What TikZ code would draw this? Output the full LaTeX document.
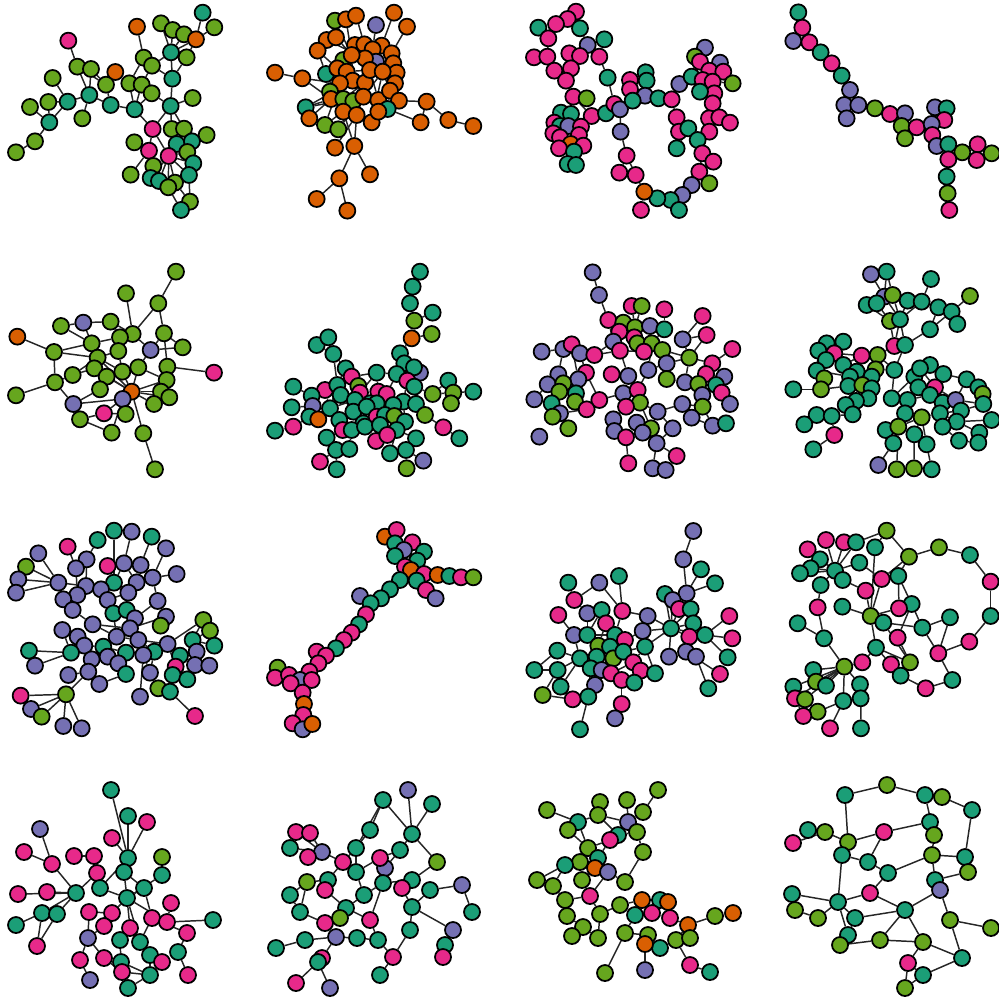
\documentclass[tikz,border=0pt]{standalone}
\usepackage{xcolor}
\usepackage{tikz}
\usetikzlibrary{backgrounds}
\definecolor{dteal}{HTML}{1B9E77}
\definecolor{dorng}{HTML}{D95F02}
\definecolor{dpurp}{HTML}{7570B3}
\definecolor{dpink}{HTML}{E7298A}
\definecolor{dgrn}{HTML}{66A61E}
\tikzset{
  vtx/.style={circle,draw=black,line width=1.25pt,minimum size=0.40cm,inner sep=0pt},
  tl/.style={vtx,fill=dteal},
  og/.style={vtx,fill=dorng},
  pu/.style={vtx,fill=dpurp},
  pk/.style={vtx,fill=dpink},
  gn/.style={vtx,fill=dgrn},
  edge/.style={draw=black!85,line width=1.05pt}
}
\begin{document}
\begin{tikzpicture}[x=0.025cm,y=-0.025cm]
  \useasboundingbox (0,0) rectangle (999,1001);

  % row 1
  \begin{scope}[shift={(0,0)},scale=0.3333]
    \foreach \n/\x/\y/\c in {1/608/38/tl,2/643/82/gn,3/483/70/gn,4/518/90/gn,5/552/103/gn,6/588/118/og,7/411/80/og,8/513/157/tl,9/560/172/gn,10/431/173/gn,11/456/197/gn,12/517/236/tl,13/205/122/pk,14/232/200/gn,15/273/207/gn,16/346/216/og,17/158/234/gn,18/318/254/gn,19/388/250/gn,20/425/254/gn,21/455/280/gn,22/268/285/tl,23/203/305/tl,24/145/306/gn,25/90/321/gn,26/332/315/tl,27/404/328/tl,28/512/318/tl,29/578/294/gn,30/148/367/tl,31/247/355/gn,32/105/424/gn,33/48/457/gn,34/458/387/pk,35/515/387/gn,36/552/386/gn,37/620/405/gn,38/403/427/gn,39/530/432/tl,40/576/424/tl,41/447/452/pk,42/506/468/pk,43/562/456/gn,44/580/490/tl,45/392/524/gn,46/460/498/gn,47/452/534/tl,48/477/543/tl,49/525/548/gn,50/505/562/gn,51/567/525/tl,52/570/605/gn,53/543/630/tl}
      \node[\c] (a\n) at (\x,\y) {};
  \end{scope}
  \begin{pgfonlayer}{background}
    \foreach \u/\v in {1/6,2/6,3/8,4/8,5/8,3/6,4/6,5/6,6/8,6/9,8/9,8/11,8/12,9/12,7/10,10/11,10/19,11/12,11/20,12/28,13/14,14/22,15/22,14/18,15/18,16/18,18/26,22/26,22/31,22/23,23/17,23/24,23/30,24/30,25/30,30/32,32/33,26/27,19/27,20/27,21/27,20/21,27/34,28/34,28/29,28/21,28/35,28/36,34/41,34/42,41/38,41/45,42/39,42/40,42/43,42/44,42/46,42/47,42/48,42/49,42/50,42/51,40/37,39/36,40/35,44/51,49/52,50/53,52/53,51/52,39/40,35/39,43/44,47/48,46/47}
      \draw[edge] (a\u) -- (a\v);
  \end{pgfonlayer}

  \begin{scope}[shift={(250,0)},scale=0.3333]
    \foreach \n/\x/\y/\c in {1/255/62/gn,2/288/58/og,3/318/47/og,4/378/75/pu,5/432/38/og,6/471/80/og,7/230/120/og,8/258/112/og,9/203/152/og,10/75/218/og,11/157/235/og,12/228/222/tl,13/280/180/gn,14/315/135/og,15/343/133/og,16/395/137/og,17/368/148/og,18/425/160/og,19/378/185/pu,20/430/190/og,21/440/218/og,22/345/175/og,23/305/165/og,24/262/205/og,25/290/215/og,26/308/242/og,27/345/248/og,28/360/210/og,29/398/215/og,30/435/250/og,31/270/250/og,32/240/275/gn,33/243/297/og,34/280/297/gn,35/310/303/gn,36/340/290/og,37/385/300/og,38/420/272/og,39/447/302/og,40/413/327/tl,41/167/322/tl,42/178/355/og,43/225/375/gn,44/265/388/gn,45/280/335/og,46/320/345/og,47/365/367/og,48/385/335/og,49/530/305/og,50/512/367/og,51/595/360/og,52/670/378/og,53/255/443/og,54/313/438/og,55/360/523/og,56/268/535/og,57/200/597/og,58/292/632/og}
      \node[\c] (b\n) at (\x,\y) {};
  \end{scope}
  \begin{pgfonlayer}{background}
    \foreach \u/\v in {1/23,2/23,3/15,4/17,5/16,6/18,7/8,7/22,8/23,9/7,9/12,9/24,10/11,11/31,11/33,12/25,41/26,41/33,41/36,42/41,42/33,43/31,43/36,44/36,44/27,45/27,46/27,39/40,39/49,49/50,49/51,50/40,51/52,53/46,54/46,54/56,54/55,56/57,56/58,54/45,47/29,13/22,13/25,14/22,15/22,15/17,16/19,17/19,18/20,19/28,20/21,22/28,23/24,23/26,24/25,25/26,26/27,27/28,27/36,28/29,29/30,29/38,21/29,30/38,31/26,32/26,32/34,33/34,34/35,35/36,36/37,37/38,37/48,38/39,38/40,40/48,45/35,46/36,47/48,22/27,25/28,26/36,24/31,12/26,19/22,14/23,16/21,34/27,36/29,35/46,28/37,20/19}
      \draw[edge] (b\u) -- (b\v);
  \end{pgfonlayer}

  \begin{scope}[shift={(500,0)},scale=0.3333]
    \foreach \n/\x/\y/\c in {1/228/35/pk,2/203/57/pk,3/168/72/pk,4/115/83/tl,5/240/85/tl,6/145/115/pk,7/263/135/pu,8/313/118/tl,9/102/172/pk,10/142/170/pk,11/208/160/pk,12/240/168/pk,13/298/170/pk,14/163/212/pk,15/213/205/pk,16/198/242/pk,17/323/233/tl,18/220/290/pk,19/260/295/gn,20/275/348/pk,21/318/340/tl,22/343/312/pk,23/360/328/pu,24/390/240/pk,25/390/268/pk,26/437/217/tl,27/440/242/tl,28/435/287/pu,29/398/302/tl,30/475/295/tl,31/515/298/pk,32/538/252/pu,33/575/230/tl,34/615/143/pu,35/585/170/gn,36/600/185/pk,37/660/188/pu,38/628/212/pk,39/670/215/pk,40/608/240/pk,41/638/245/pk,42/698/250/gn,43/643/280/pk,44/600/275/tl,45/638/310/pk,46/530/352/pk,47/537/395/pk,48/565/385/tl,49/627/355/pk,50/658/352/pk,51/690/368/pk,52/628/395/pk,53/593/420/tl,54/530/445/tl,55/607/460/pk,56/640/485/pk,57/598/515/pk,58/628/550/gn,59/575/555/pu,60/547/585/pu,61/512/600/tl,62/537/630/tl,63/472/595/tl,64/433/575/og,65/423/630/pk,66/407/525/pk,67/358/518/pk,68/380/467/pk,69/362/395/pu,70/183/338/tl,71/213/342/tl,72/163/368/pk,73/180/378/tl,74/205/378/pu,75/243/380/pk,76/160/400/pk,77/180/412/pk,78/237/405/pk,79/212/432/og,80/250/437/pk,81/177/445/pk,82/222/455/tl,83/203/492/tl,84/228/495/tl}
      \node[\c] (c\n) at (\x,\y) {};
  \end{scope}
  \begin{pgfonlayer}{background}
    \foreach \u/\v in {1/2,2/3,3/6,4/6,2/5,5/7,7/12,7/13,8/13,13/17,17/22,6/10,9/10,10/14,11/15,11/12,14/16,15/16,16/18,18/19,18/20,20/21,21/22,22/23,23/69,69/68,68/67,68/66,66/64,64/65,64/63,63/61,61/62,61/60,60/59,59/57,57/58,57/56,57/55,55/53,53/52,52/49,49/50,50/51,48/47,47/46,46/31,31/32,31/30,30/28,28/29,29/22,24/25,25/29,26/27,27/28,32/33,33/44,44/40,35/36,34/36,36/38,37/39,38/40,38/41,39/41,40/43,41/43,42/41,43/45,45/49,48/53,54/48,52/45,20/75,75/71,70/71,70/72,72/73,73/74,74/79,76/77,77/79,78/79,79/80,79/81,79/82,82/83,82/84,71/74,75/78,72/76,73/77}
      \draw[edge] (c\u) -- (c\v);
  \end{pgfonlayer}

  \begin{scope}[shift={(750,0)},scale=0.3333]
    \foreach \n/\x/\y/\c in {1/145/37/tl,2/157/83/pk,3/130/123/pu,4/178/127/pk,5/212/157/tl,6/245/190/pk,7/275/227/tl,8/300/270/pu,9/283/315/pu,10/325/315/pu,11/290/355/pu,12/375/325/gn,13/420/342/pk,14/465/340/pu,15/455/378/gn,16/465/415/gn,17/500/382/pk,18/555/322/pu,19/590/325/tl,20/583/360/pk,21/545/372/pu,22/547/405/pk,23/560/438/pu,24/595/433/tl,25/637/457/gn,26/683/433/pk,27/680/480/pk,28/725/460/gn,29/595/478/pk,30/590/530/tl,31/593/580/gn,32/598/630/pk}
      \node[\c] (d\n) at (\x,\y) {};
  \end{scope}
  \begin{pgfonlayer}{background}
    \foreach \u/\v in {1/2,2/3,2/4,3/4,4/5,5/6,6/7,7/8,8/9,8/10,9/10,9/11,10/11,10/12,12/13,13/14,13/15,14/17,15/17,15/16,17/21,18/19,18/20,19/20,18/21,20/21,21/22,22/23,22/24,23/24,24/25,24/29,23/29,25/26,25/27,26/28,27/28,29/30,30/31,31/32}
      \draw[edge] (d\u) -- (d\v);
  \end{pgfonlayer}

  % row 2
  \begin{scope}[shift={(0,250)},scale=0.3333]
    \foreach \n/\x/\y/\c in {1/528/65/gn,2/378/130/gn,3/475/160/gn,4/183/228/gn,5/250/218/pu,6/332/215/gn,7/52/260/og,8/398/252/gn,9/492/250/gn,10/360/262/gn,11/275/280/gn,12/452/300/pu,13/548/292/gn,14/162/306/gn,15/355/303/gn,16/293/323/gn,17/283/355/gn,18/218/375/gn,19/367/365/gn,20/415/352/gn,21/502/350/gn,22/642/368/pk,23/165/397/gn,24/320/380/gn,25/500/390/gn,26/48/436/gn,27/300/418/gn,28/395/425/og,29/368/447/pu,30/483/425/gn,31/508/442/gn,32/462/462/gn,33/220/462/pu,34/312/490/pk,35/377/492/gn,36/240/508/gn,37/335/548/gn,38/430/550/gn,39/465/658/gn}
      \node[\c] (e\n) at (\x,\y) {};
  \end{scope}
  \begin{pgfonlayer}{background}
    \foreach \u/\v in {1/3,3/9,3/8,2/8,4/5,5/6,5/11,6/10,6/8,7/14,14/11,14/23,14/16,23/26,23/18,23/33,33/36,33/29,36/34,36/37,34/28,29/37,28/38,38/39,28/35,22/21,13/12,12/8,9/21,10/15,15/19,19/20,20/28,28/24,24/17,17/11,11/16,16/19,18/17,27/24,27/33,28/25,28/30,28/31,28/32,25/21,9/12,12/20,15/8,19/28,20/25,10/11,16/28,35/29,29/28,8/10,24/19,15/16,18/16,4/11,32/25,30/21,13/9,17/28,35/34}
      \draw[edge] (e\u) -- (e\v);
  \end{pgfonlayer}

  \begin{scope}[shift={(250,250)},scale=0.3333]
    \foreach \n/\x/\y/\c in {1/510/65/tl,2/488/110/tl,3/480/160/tl,4/548/188/tl,5/493/212/gn,6/545/252/gn,7/485/265/og,8/200/285/tl,9/235/262/tl,10/250/312/tl,11/450/310/tl,12/463/340/tl,13/287/355/tl,14/380/368/tl,15/440/372/tl,16/510/368/pu,17/492/352/tl,18/305/380/pk,19/472/392/pk,20/595/392/tl,21/130/410/tl,22/225/420/pk,23/262/405/tl,24/325/408/gn,25/330/428/pk,26/385/425/pk,27/410/432/pk,28/493/410/tl,29/548/432/gn,30/610/428/gn,31/670/425/tl,32/185/437/tl,33/272/435/tl,34/315/450/tl,35/360/460/tl,36/380/460/tl,37/460/455/tl,38/498/462/tl,39/603/460/gn,40/125/472/tl,41/188/468/pu,42/240/475/tl,43/310/485/tl,44/350/470/tl,45/430/465/tl,46/525/495/gn,47/178/500/tl,48/205/508/og,49/130/530/pk,50/75/542/tl,51/268/510/tl,52/340/520/tl,53/380/500/pk,54/405/495/tl,55/433/498/gn,56/465/515/tl,57/580/532/pk,58/628/565/tl,59/278/540/pk,60/305/540/tl,61/345/530/tl,62/390/525/tl,63/440/540/tl,64/230/563/tl,65/378/573/pk,66/412/555/pk,67/498/565/tl,68/258/600/tl,69/298/597/tl,70/420/610/tl,71/468/600/tl,72/210/635/pk,73/260/658/tl,74/520/632/pu,75/470/655/gn}
      \node[\c] (f\n) at (\x,\y) {};
  \end{scope}
  \begin{pgfonlayer}{background}
    \foreach \u/\v in {1/2,2/3,3/5,5/4,5/7,7/6,7/11,11/12,12/17,17/16,12/15,15/19,19/28,28/29,29/30,29/20,30/31,30/39,20/30,28/46,46/57,57/58,8/9,8/10,10/13,13/18,18/24,14/15,14/26,21/32,32/22,22/33,32/41,40/41,41/48,48/47,47/49,49/50,42/23,42/34,51/59,59/64,64/68,68/72,68/73,69/60,70/63,71/67,71/75,71/74,65/62,66/62,13/23,23/33,33/34,34/24,24/25,25/35,26/27,27/36,35/36,36/45,45/37,37/38,38/28,19/37,15/27,14/25,18/25,34/43,43/44,44/52,52/61,61/53,53/54,54/55,55/56,56/63,63/67,62/54,45/55,38/46,43/51,51/60,60/44,61/62,22/42,42/51,36/44,35/44,26/35,27/45,37/56,45/54,33/43,22/23,10/23,18/14,16/19,12/19,11/17}
      \draw[edge] (f\u) -- (f\v);
  \end{pgfonlayer}

  \begin{scope}[shift={(500,250)},scale=0.3333]
    \foreach \n/\x/\y/\c in {1/278/67/pu,2/297/135/pu,3/395/168/pk,4/425/168/gn,5/493/178/pk,6/608/198/pk,7/325/210/pk,8/370/218/gn,9/405/232/gn,10/450/228/pu,11/493/238/tl,12/358/245/pk,13/403/262/pk,14/340/275/pu,15/412/280/gn,16/455/280/gn,17/620/255/pk,18/548/268/pu,19/360/302/pk,20/432/305/pk,21/487/300/gn,22/568/323/gn,23/697/297/pk,24/125/305/pu,25/190/297/pu,26/215/283/pk,27/240/310/pu,28/283/315/pk,29/637/340/pk,30/500/340/pu,31/335/373/pk,32/385/378/pu,33/445/360/pu,34/500/387/gn,35/555/397/pu,36/618/372/pk,37/673/380/pu,38/595/402/gn,39/175/373/pu,40/258/368/pk,41/143/403/pu,42/235/388/pu,43/190/400/gn,44/178/425/gn,45/228/430/tl,46/648/405/tl,47/665/428/pk,48/607/435/pu,49/103/448/pu,50/155/460/tl,51/225/455/gn,52/298/450/pk,53/370/430/pu,54/413/420/pk,55/420/458/gn,56/378/470/pk,57/473/485/pu,58/547/462/pu,59/690/462/pu,60/260/478/pk,61/180/490/pu,62/158/500/gn,63/608/470/gn,64/205/535/gn,65/340/508/pu,66/410/518/pu,67/575/503/pu,68/638/527/pu,69/678/520/tl,70/343/543/pu,71/453/535/gn,72/428/548/pu,73/518/535/pu,74/378/562/pk,75/118/560/pu,76/470/580/pu,77/530/618/pk,78/385/640/pk,79/458/655/pu,80/497/660/pu}
      \node[\c] (g\n) at (\x,\y) {};
  \end{scope}
  \begin{pgfonlayer}{background}
    \foreach \u/\v in {1/2,2/7,7/12,7/14,3/9,4/9,5/11,6/18,17/22,23/29,8/12,8/10,9/10,10/11,9/13,12/13,13/15,14/19,15/16,16/21,11/16,10/16,18/22,22/21,22/30,22/29,29/36,36/37,36/38,29/46,46/47,37/47,38/48,48/63,47/59,63/68,68/69,58/67,58/63,35/38,35/22,34/30,33/30,33/16,32/19,33/54,53/54,53/56,54/55,55/57,57/58,57/73,73/76,76/77,76/79,79/80,78/74,74/70,70/65,65/56,66/72,72/76,71/66,71/55,24/25,25/26,26/27,27/28,28/19,28/14,26/42,27/40,39/43,39/41,41/49,43/45,45/51,44/50,50/62,62/61,61/64,49/50,40/52,52/53,42/45,43/44,51/60,60/61,25/39,42/40,20/15,20/21,19/20,34/35,18/17,67/68,59/46}
      \draw[edge] (g\u) -- (g\v);
  \end{pgfonlayer}

  \begin{scope}[shift={(750,250)},scale=0.3333]
    \foreach \n/\x/\y/\c in {1/363/73/pu,2/410/65/tl,3/543/87/tl,4/403/140/pu,5/428/135/gn,6/660/138/gn,7/350/165/tl,8/380/160/tl,9/473/152/tl,10/515/155/tl,11/565/172/tl,12/605/185/tl,13/420/213/gn,14/450/208/tl,15/622/222/tl,16/540/238/tl,17/433/288/pk,18/465/285/tl,19/230/280/tl,20/280/275/tl,21/205/302/tl,22/253/310/pk,23/335/317/pk,24/383/315/gn,25/228/330/tl,26/200/362/tl,27/280/345/tl,28/320/365/tl,29/377/358/gn,30/433/360/tl,31/223/385/gn,32/300/380/tl,33/365/380/tl,34/130/418/tl,35/213/418/gn,36/295/408/tl,37/337/405/gn,38/365/415/tl,39/425/445/tl,40/355/445/tl,41/318/453/tl,42/287/465/tl,43/200/495/tl,44/245/498/tl,45/308/493/tl,46/163/523/tl,47/253/555/pk,48/190/598/tl,49/493/380/tl,50/540/345/tl,51/580/372/tl,52/510/355/tl,53/555/412/pk,54/505/412/tl,55/540/435/tl,56/578/458/tl,57/473/450/tl,58/617/450/pu,59/650/388/tl,60/685/412/tl,61/698/432/gn,62/700/462/tl,63/633/482/tl,64/465/490/tl,65/515/502/gn,66/570/490/tl,67/620/515/tl,68/725/510/tl,69/688/548/tl,70/407/540/tl,71/445/530/gn,72/493/553/tl,73/578/530/tl,74/627/572/tl,75/685/578/tl,76/430/580/tl,77/530/583/tl,78/385/645/pu,79/440/658/gn,80/492/655/gn,81/545/658/tl}
      \node[\c] (h\n) at (\x,\y) {};
  \end{scope}
  \begin{pgfonlayer}{background}
    \foreach \u/\v in {1/4,2/4,2/5,4/7,4/8,4/14,5/14,8/13,7/13,9/14,3/10,9/10,10/14,11/12,11/15,6/12,12/15,12/16,11/16,13/17,14/17,14/18,16/18,17/18,17/24,18/30,19/21,19/22,20/22,21/25,22/25,23/24,23/27,25/26,26/31,27/28,28/29,24/29,29/30,30/39,26/32,31/35,32/36,34/35,35/36,36/37,37/38,28/33,33/38,38/40,40/41,41/42,42/45,45/44,44/43,43/46,44/47,47/48,39/49,49/50,49/52,50/51,51/53,52/53,53/54,54/55,55/56,56/58,58/59,59/60,60/61,58/62,62/63,55/57,57/39,57/64,64/65,65/66,66/67,67/68,67/69,63/66,56/66,65/71,71/70,70/76,76/78,72/65,72/80,73/74,74/75,73/66,77/81,77/65,71/79,49/54,53/58,51/59,32/27,36/28,29/33,24/30,25/27,22/23,21/26}
      \draw[edge] (h\u) -- (h\v);
  \end{pgfonlayer}

  % row 3
  \begin{scope}[shift={(0,500)},scale=0.3333]
    \foreach \n/\x/\y/\c in {1/342/92/tl,2/395/95/pu,3/455/110/tl,4/293/120/tl,5/498/145/pu,6/203/140/pk,7/115/160/pu,8/78/200/gn,9/260/178/pu,10/323/198/pk,11/372/190/pu,12/422/195/pu,13/530/222/pu,14/228/205/pu,15/55/238/pu,16/175/248/pu,17/458/233/pu,18/342/248/tl,19/410/247/pu,20/48/278/pu,21/258/258/pu,22/303/268/pu,23/232/285/pu,24/385/278/pu,25/190/298/pu,26/323/300/pu,27/473/303/pu,28/218/330/pu,29/340/340/tl,30/380/330/tl,31/405/355/pu,32/498/350/pu,33/482/377/gn,34/278/373/pu,35/390/385/pu,36/610/360/gn,37/630/392/gn,38/187/390/pu,39/233/410/pu,40/350/410/pu,41/415/420/pu,42/578/420/tl,43/643/437/tl,44/87/452/tl,45/253/437/pu,46/310/440/tl,47/503/432/pu,48/213/458/tl,49/378/458/tl,50/463/455/tl,51/430/465/pu,52/540/467/tl,53/590/455/pu,54/105/497/pu,55/275/478/pu,56/323/470/pu,57/355/490/pu,58/527/500/pk,59/585/495/pu,60/628/497/pu,61/205/525/pu,62/265/515/pu,63/378/522/tl,64/450/518/pu,65/518/525/tl,66/562/538/tl,67/298/552/pu,68/475/565/gn,69/510/575/tl,70/62/587/pk,71/198/583/gn,72/93/627/pu,73/420/590/pu,74/125/650/gn,75/190/678/pu,76/245/685/pu,77/585/648/pk}
      \node[\c] (i\n) at (\x,\y) {};
  \end{scope}
  \begin{pgfonlayer}{background}
    \foreach \u/\v in {1/18,2/11,3/12,4/9,5/17,6/14,7/16,8/16,15/16,20/16,15/20,8/15,9/14,9/21,10/18,11/18,12/17,13/17,11/19,12/19,14/23,16/21,16/25,21/22,22/18,18/24,19/24,17/27,23/25,25/28,22/26,26/29,24/30,29/30,30/31,31/35,27/31,32/33,32/35,28/34,34/35,34/40,38/39,39/45,35/40,40/41,41/47,36/42,37/42,36/47,42/43,42/53,44/48,48/38,48/45,45/46,46/40,46/49,49/50,50/41,50/47,47/52,52/58,53/59,59/60,53/52,51/49,51/64,54/48,55/45,55/56,56/57,57/49,61/62,62/55,62/67,63/57,64/50,65/58,66/65,68/69,69/77,65/69,58/47,71/62,70/71,72/71,74/71,75/71,76/71,72/74,73/51,67/63,26/21,29/40,35/41,24/26}
      \draw[edge] (i\u) -- (i\v);
  \end{pgfonlayer}

  \begin{scope}[shift={(250,500)},scale=0.3333]
    \foreach \n/\x/\y/\c in {1/405/110/og,2/440/90/pk,3/435/130/tl,4/487/127/pk,5/462/150/pu,6/522/155/tl,7/435/168/tl,8/502/182/tl,9/465/200/pk,10/483/210/og,11/522/222/pk,12/563/225/og,13/598/228/tl,14/633/232/pk,15/670/232/gn,16/500/242/tl,17/450/240/tl,18/528/270/pk,19/557/295/pu,20/420/268/tl,21/393/295/tl,22/330/288/pu,23/362/310/tl,24/348/343/pk,25/327/373/tl,26/305/398/pk,27/282/420/pk,28/258/445/tl,29/200/455/pk,30/228/467/pk,31/205/490/pk,32/83/503/gn,33/75/533/pk,34/117/525/pk,35/178/515/pk,36/150/540/pu,37/122/550/pk,38/185/540/pk,39/158/578/pk,40/162/612/og,41/160/645/pk,42/128/670/pk,43/158/688/pu,44/187/672/og}
      \node[\c] (j\n) at (\x,\y) {};
  \end{scope}
  \begin{pgfonlayer}{background}
    \foreach \u/\v in {1/3,2/3,3/7,3/5,4/5,4/6,5/9,6/8,7/9,8/10,9/10,10/11,11/12,12/13,13/14,14/15,10/16,16/18,18/19,9/17,17/20,20/21,21/23,22/23,23/24,24/25,25/26,26/27,27/28,28/30,29/30,30/31,31/35,35/36,35/38,36/34,36/37,34/33,34/32,36/39,38/39,39/40,40/41,41/42,41/43,41/44,43/44,8/11,5/8}
      \draw[edge] (j\u) -- (j\v);
  \end{pgfonlayer}

  \begin{scope}[shift={(500,500)},scale=0.3333]
    \foreach \n/\x/\y/\c in {1/580/93/pu,2/550/178/pu,3/603/208/tl,4/645/250/tl,5/205/248/tl,6/298/248/pu,7/357/228/tl,8/495/282/tl,9/560/280/pu,10/518/300/pu,11/537/327/pk,12/572/327/tl,13/223/300/pk,14/175/345/pk,15/262/340/pu,16/305/330/tl,17/367/333/pk,18/318/370/pk,19/443/348/pu,20/580/370/tl,21/513/385/tl,22/688/348/pk,23/222/405/pu,24/262/405/tl,25/345/405/tl,26/375/420/pk,27/428/393/pu,28/568/410/pk,29/615/405/tl,30/697/415/pk,31/295/437/gn,32/330/440/tl,33/435/440/tl,34/172/452/tl,35/240/475/tl,36/290/470/tl,37/340/475/gn,38/370/455/tl,39/507/470/pu,40/558/455/pu,41/588/470/pu,42/683/472/tl,43/103/510/tl,44/173/510/tl,45/272/505/tl,46/305/510/pu,47/333/520/pk,48/400/487/pk,49/422/512/pk,50/465/520/tl,51/365/540/pk,52/403/548/tl,53/660/522/pk,54/182/560/tl,55/285/555/pu,56/128/585/gn,57/218/598/pk,58/265/590/tl,59/365/612/pk,60/625/565/tl,61/345/655/pu,62/240/688/tl}
      \node[\c] (k\n) at (\x,\y) {};
  \end{scope}
  \begin{pgfonlayer}{background}
    \foreach \u/\v in {1/2,2/9,9/3,9/4,9/10,9/8,8/21,10/21,11/21,12/21,20/21,21/28,21/29,29/22,29/30,29/42,28/40,41/60,40/53,20/12,12/11,21/19,21/27,21/39,21/33,5/13,6/13,6/17,7/17,13/15,14/23,15/24,16/24,17/25,17/19,18/25,19/27,23/24,24/25,25/26,26/27,27/33,24/31,31/32,32/25,32/38,33/38,38/26,36/31,35/34,34/43,43/44,44/35,35/36,36/37,37/32,37/47,47/48,48/49,49/50,50/33,45/46,46/47,47/51,51/52,52/49,44/56,56/57,57/58,58/45,58/62,55/45,51/59,59/61,54/44,54/35,23/35,25/31,31/36,33/48,38/48,16/25,18/31}
      \draw[edge] (k\u) -- (k\v);
  \end{pgfonlayer}

  \begin{scope}[shift={(750,500)},scale=0.3333]
    \foreach \n/\x/\y/\c in {1/410/92/gn,2/228/120/pk,3/282/127/pk,4/318/127/tl,5/375/142/tl,6/173/148/pk,7/477/170/gn,8/567/142/gn,9/660/165/tl,10/210/178/tl,11/328/188/tl,12/182/205/tl,13/150/220/tl,14/255/212/tl,15/278/240/tl,16/212/255/tl,17/395/237/pk,18/445/228/tl,19/722/245/pk,20/347/272/pk,21/485/312/tl,22/203/322/pk,23/277/320/tl,24/447/325/pk,25/362/348/gn,26/400/368/tl,27/600/352/tl,28/722/348/tl,29/143/370/tl,30/517/383/tl,31/443/413/pk,32/222/415/tl,33/378/443/tl,34/658/425/pk,35/565/460/pk,36/337/487/pk,37/423/493/pk,38/480/487/gn,39/283/500/gn,40/190/510/tl,41/452/527/tl,42/198/545/gn,43/228/557/tl,44/330/553/tl,45/130/560/tl,46/607/540/tl,47/527/565/pk,48/135/595/pk,49/165/598/gn,50/332/595/tl,51/280/603/tl,52/203/635/gn,53/160/648/pk,54/240/685/pk,55/333/685/tl}
      \node[\c] (l\n) at (\x,\y) {};
  \end{scope}
  \begin{pgfonlayer}{background}
    \foreach \u/\v in {1/7,1/5,1/4,7/8,8/9,9/19,19/28,28/34,34/35,35/27,35/30,30/21,30/26,30/27,21/18,18/17,18/7,7/17,17/11,17/25,2/14,3/14,4/14,6/14,10/14,12/14,13/14,14/15,14/16,11/14,5/25,15/20,20/25,16/22,22/32,29/32,23/25,25/26,24/25,24/18,25/33,31/21,26/38,33/36,33/38,33/37,37/41,38/41,41/47,47/46,46/35,36/39,32/39,39/40,39/42,39/43,39/45,39/48,39/49,39/44,39/51,44/50,50/55,51/54,51/52,49/52,42/43,45/48,48/53,52/53,12/13,10/12,31/38,21/24}
      \draw[edge] (l\u) -- (l\v);
  \end{pgfonlayer}

  % row 4
  \begin{scope}
    \foreach \n/\x/\y/\c in {1/111/790/tl,2/40/829/pu,3/128/816/tl,4/147/822/pk,5/112/838/pk,6/24/852/pk,7/52/864/pk,8/74/856/pk,9/94/856/pk,10/128/858/tl,11/162/857/gn,12/97/873/pk,13/124/872/tl,14/162/875/tl,15/47/892/pk,16/76/893/tl,17/18/894/pk,18/100/888/tl,19/144/888/tl,20/42/913/tl,21/57/914/tl,22/89/912/pk,23/127/898/tl,24/171/903/pk,25/112/913/pk,26/152/918/pk,27/213/920/tl,28/16/925/tl,29/104/926/pk,30/130/928/pk,31/88/938/pu,32/120/940/tl,33/167/922/pk,34/187/933/pk,35/140/942/tl,36/150/955/tl,37/104/958/pk,38/178/952/tl,39/37/946/pk,40/80/960/pk,41/121/962/tl,42/122/972/pk,43/188/975/pk,44/90/980/pu,45/150/975/tl,46/128/988/tl,47/162/962/pk}
      \node[\c] (m\n) at (\x,\y) {};
  \end{scope}
  \begin{pgfonlayer}{background}
    \foreach \u/\v in {1/10,3/10,4/10,5/10,2/7,6/7,7/16,8/9,9/18,12/16,16/20,16/21,17/16,15/16,20/28,20/39,21/39,18/23,10/13,11/14,13/23,14/23,19/23,23/25,23/30,25/29,22/25,22/31,29/31,31/37,31/40,30/35,23/33,33/27,26/35,35/36,36/47,36/45,45/46,42/45,37/42,44/40,32/41,41/45,24/33,34/38,38/43,34/26,19/26,10/18,13/19,30/32,23/35,26/33}
      \draw[edge] (m\u) -- (m\v);
  \end{pgfonlayer}

  \begin{scope}
    \foreach \n/\x/\y/\c in {1/383/800/tl,2/408/790/pu,3/432/804/tl,4/370/830/tl,5/296/832/pk,6/310/833/pk,7/290/848/tl,8/322/852/pu,9/308/857/pk,10/356/848/tl,11/400/850/tl,12/412/834/tl,13/437/862/gn,14/343/862/pk,15/385/868/pu,16/412/880/tl,17/402/888/pk,18/356/872/tl,19/328/880/tl,20/307/882/gn,21/290/895/tl,22/325/890/pk,23/364/895/tl,24/383/883/tl,25/430/890/tl,26/462/885/pu,27/300/912/tl,28/346/908/tl,29/412/907/tl,30/472/912/tl,31/325/923/pk,32/340/918/gn,33/336/937/pu,34/357/938/tl,35/378/940/tl,36/410/930/tl,37/453/930/pu,38/276/948/tl,39/305/940/tl,40/322/958/pk,41/393/957/pk,42/445/945/tl,43/443/957/pk,44/296/983/pk,45/318/962/tl,46/330/988/pu,47/380/975/tl,48/370/920/pk,49/380/858/pk}
      \node[\c] (n\n) at (\x,\y) {};
  \end{scope}
  \begin{pgfonlayer}{background}
    \foreach \u/\v in {1/4,1/10,1/12,3/12,2/12,4/10,5/8,6/8,7/8,9/8,8/14,10/14,10/18,11/12,11/15,12/13,13/16,15/24,14/19,19/20,20/21,19/22,18/23,23/24,24/16,16/17,17/29,25/29,25/26,26/30,29/36,29/37,37/42,42/43,23/28,28/32,32/31,31/27,27/21,28/48,48/35,35/34,34/33,33/39,39/38,33/40,40/45,45/44,45/46,35/41,41/47,36/41,22/28,49/15,49/11,18/49,24/48,14/18,20/27}
      \draw[edge] (n\u) -- (n\v);
  \end{pgfonlayer}

  \begin{scope}
    \foreach \n/\x/\y/\c in {1/600/802/gn,2/627/800/gn,3/643/812/gn,4/658/790/gn,5/547/810/gn,6/578/822/tl,7/598/815/gn,8/628/822/pu,9/618/835/tl,10/637/832/gn,11/568/830/gn,12/610/840/pk,13/588/848/gn,14/598/858/tl,15/580/862/gn,16/643/852/gn,17/595/868/og,18/608/872/pu,19/625/882/gn,20/565/865/tl,21/537/880/gn,22/553/886/gn,23/582/880/gn,24/590/896/pk,25/565/900/gn,26/567/916/gn,27/600/914/gn,28/620/905/gn,29/583/927/gn,30/572/936/gn,31/642/900/og,32/660/900/tl,33/635/915/tl,34/652/913/pk,35/670/918/pk,36/688/925/og,37/676/940/gn,38/648/935/gn,39/660/948/tl,40/645/944/og,41/625/933/gn,42/690/938/gn,43/715/916/gn,44/733/913/og,45/645/970/pu,46/690/965/pk,47/710/972/tl,48/605/973/gn,49/598/938/gn,50/668/902/og}
      \node[\c] (o\n) at (\x,\y) {};
  \end{scope}
  \begin{pgfonlayer}{background}
    \foreach \u/\v in {1/7,2/8,3/8,4/3,5/6,6/7,7/8,7/9,8/9,9/10,9/12,12/13,11/13,6/13,13/14,14/17,15/17,16/19,17/18,18/19,17/20,20/21,20/22,17/23,23/24,24/25,25/26,24/27,27/28,28/31,26/29,29/30,29/49,31/32,31/33,33/34,34/35,35/36,36/37,36/42,36/43,43/44,33/41,41/38,38/40,40/39,39/37,40/45,37/46,46/47,41/48,34/50,50/32,10/16,12/14,14/18,13/15,22/25,12/8,11/6,24/18,27/49}
      \draw[edge] (o\u) -- (o\v);
  \end{pgfonlayer}

  \begin{scope}
    \foreach \n/\x/\y/\c in {1/845/795/tl,2/887/785/gn,3/925/795/tl,4/942/797/gn,5/808/830/tl,6/825/832/gn,7/848/842/gn,8/842/855/tl,9/793/843/pk,10/884/832/pk,11/930/822/tl,12/934/835/gn,13/972/810/tl,14/868/862/tl,15/888/873/tl,16/932/855/gn,17/965/857/tl,18/935/880/tl,19/968/872/gn,20/792/894/tl,21/838/902/tl,22/818/918/gn,23/870/893/pk,24/940/890/pu,25/855/918/tl,26/848/935/tl,27/905/910/tl,28/950/920/gn,29/991/928/gn,30/840/945/gn,31/880/940/gn,32/923/942/gn,33/962/958/tl,34/908/963/pk,35/905/988/gn,36/923/975/tl,37/795/910/gn}
      \node[\c] (p\n) at (\x,\y) {};
  \end{scope}
  \begin{pgfonlayer}{background}
    \foreach \u/\v in {1/2,2/3,3/4,1/7,5/6,6/7,7/8,9/6,10/7,10/11,11/12,12/16,13/17,4/13,8/14,14/15,15/16,16/17,17/19,18/19,16/18,10/14,15/23,23/21,21/8,20/21,20/37,37/22,22/21,21/25,25/26,26/30,30/31,31/32,32/33,33/28,28/29,24/27,27/23,24/18,24/28,27/32,27/31,32/34,34/35,34/36,35/36,36/33,25/27,26/21,12/3}
      \draw[edge] (p\u) -- (p\v);
  \end{pgfonlayer}
\end{tikzpicture}
\end{document}
